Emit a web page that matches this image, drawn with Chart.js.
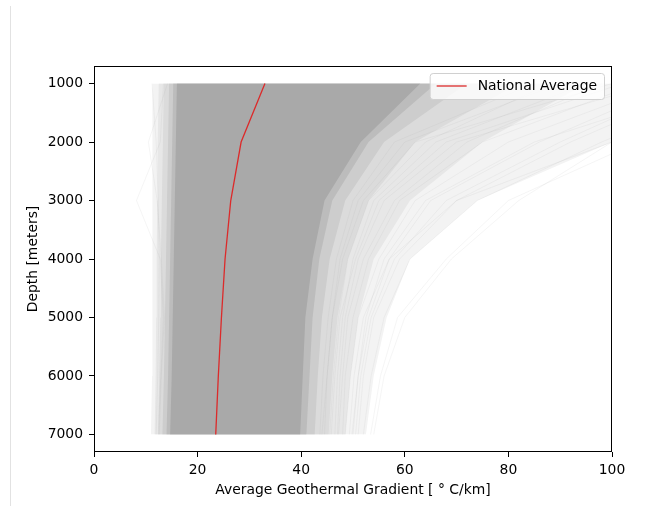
<!DOCTYPE html>
<html><head><meta charset="utf-8">
<script src="https://cdn.jsdelivr.net/npm/chart.js@4/dist/chart.umd.min.js"></script>
<style>
html,body{margin:0;padding:0;background:#fff;}
#wrap{position:relative;width:669px;height:506px;overflow:hidden;}
#edge{position:absolute;left:10px;top:6px;width:1px;height:500px;background:#e2e2e2;}
canvas{position:absolute;left:0;top:0;}
</style></head><body>
<div id="wrap"><canvas id="c" width="669" height="506"></canvas><div id="edge"></div></div>
<script>
// ---- data ----
const depths = [1000, 2000, 3000, 4000, 5000, 6000, 7000];
const depthTicks = [1000, 2000, 3000, 4000, 5000, 6000, 7000];
const gradientTicks = [0, 20, 40, 60, 80, 100];
const nationalAverage = [33.0, 28.4, 26.4, 25.3, 24.6, 24.0, 23.5];

// envelopes of the bundle of well profiles, from the dense core outwards
const coreLeft   = [16.0, 15.8, 15.6, 15.4, 15.2, 15.0, 14.7];
const coreRight  = [63.0, 51.5, 44.5, 42.2, 40.8, 40.3, 39.8];
const band1Left  = [15.3, 15.1, 14.9, 14.7, 14.5, 14.3, 14.0];
const band1Right = [66.0, 53.0, 46.0, 43.5, 42.2, 41.6, 41.0];
const band2Left  = [14.5, 14.3, 14.1, 13.9, 13.7, 13.5, 13.2];
const band2Right = [72.0, 56.0, 48.5, 45.5, 44.0, 43.2, 42.6];
const band3Left  = [13.5, 13.3, 13.1, 12.9, 12.8, 12.6, 12.4];
const band3Right = [82.0, 62.0, 53.0, 49.0, 47.0, 46.0, 45.3];
const band4Left  = [12.5, 12.3, 12.2, 12.1, 12.0, 11.9, 11.7];
const band4Right = [95.0, 75.0, 61.0, 54.0, 51.0, 49.5, 48.5];
const band5Left  = [11.3, 11.2, 11.3, 11.3, 11.3, 11.2, 11.0];
const band5Right = [115.0, 100.0, 74.0, 61.0, 56.5, 54.0, 52.5];

// individual outlying profiles
const rightProfiles = [
  [100, 62, 52, 48, 46, 45, 44.5],
  [108, 70, 56, 51, 48.5, 47.5, 47],
  [95, 66, 54, 50, 48, 47, 46.5],
  [120, 85, 64, 56, 52.5, 51, 50],
  [140, 105, 80, 68, 58.6, 55.3, 53.4],
  [125, 98, 74, 61, 56, 53.5, 52],
  [110, 80, 62, 55, 51, 49.5, 48.5],
  [90, 60, 51, 47.5, 46, 45, 44],
  [115, 90, 68, 58, 53.5, 51.5, 50.5],
  [105, 75, 59, 53, 50, 48.5, 48],
  [85, 58, 50, 46.8, 45.2, 44.2, 43.6],
  [135, 100, 70, 59, 54, 52, 51],
  [112, 86, 65, 57, 52, 50.2, 49.3],
  [98, 72, 58, 52, 49, 48, 47.2],
  [150, 100, 82, 69, 60, 56, 54],
  [102, 68, 55, 50.5, 47.5, 46.5, 45.8],
  [118, 92, 70, 57, 53, 51, 49.8],
  [88, 64, 53, 49, 47.2, 46.2, 45.5]
];
const leftProfiles = [
  [13.4, 12.8, 8.2, 12.8, 13.4, 12.9, 12.4],
  [14.2, 10.5, 12.2, 13.0, 13.6, 13.0, 12.6],
  [11.2, 12.0, 12.4, 12.6, 12.5, 12.3, 12.0]
];

// ---- chart ----
const FONT = 'DejaVu Sans';
const FS = 13.9;
const pts = arr => depths.map((d, i) => ({x: arr[i], y: d}));
const datasets = [];
datasets.push({label: 'National Average', data: pts(nationalAverage), borderColor: '#dc2a2a',
  borderWidth: 1.3, pointRadius: 0, fill: false, order: 0, tension: 0});
function band(left, right, color, order) {
  const li = datasets.length;
  datasets.push({label: '_band', data: pts(left), borderColor: 'rgba(0,0,0,0)', borderWidth: 0.01,
    pointRadius: 0, fill: false, order});
  datasets.push({label: '_band', data: pts(right), borderColor: 'rgba(0,0,0,0)', borderWidth: 0.01,
    pointRadius: 0, fill: {target: li}, backgroundColor: color, order});
}
band(coreLeft, coreRight, '#a9a9a9', 1);
rightProfiles.concat(leftProfiles).forEach(p => datasets.push({label: '_profile', data: pts(p),
  borderColor: 'rgba(150,150,150,0.2)', borderWidth: 0.5, pointRadius: 0, fill: false, order: 2}));
band(band1Left, band1Right, '#bcbcbc', 3);
band(band2Left, band2Right, '#cdcdcd', 4);
band(band3Left, band3Right, '#dbdbdb', 5);
band(band4Left, band4Right, '#e7e7e7', 6);
band(band5Left, band5Right, '#f3f3f3', 7);

const framePlugin = {
  id: 'frameAndLegend',
  afterDatasetsDraw(chart) {
    const {ctx, chartArea: a} = chart;
    ctx.save();
    ctx.strokeStyle = '#000'; ctx.lineWidth = 1;
    ctx.strokeRect(a.left + 0.5, a.top + 0.5, a.right - a.left - 1, a.bottom - a.top - 1);
    const ds = chart.data.datasets[0];
    ctx.font = FS + 'px "' + FONT + '"';
    const tw = ctx.measureText(ds.label).width;
    const boxRight = a.right - 8;
    const textLeft = boxRight - 7 - tw;
    const hRight = textLeft - 11, hLeft = hRight - 30;
    const boxLeft = hLeft - 7;
    const boxTop = a.top + 7, boxH = 26;
    ctx.beginPath();
    ctx.roundRect(boxLeft + 0.5, boxTop + 0.5, boxRight - boxLeft, boxH, 3);
    ctx.fillStyle = 'rgba(255,255,255,0.8)'; ctx.fill();
    ctx.strokeStyle = '#d0d0d0'; ctx.stroke();
    const cy = boxTop + boxH / 2;
    ctx.beginPath(); ctx.moveTo(hLeft, cy); ctx.lineTo(hRight, cy);
    ctx.strokeStyle = ds.borderColor; ctx.lineWidth = 1.3; ctx.stroke();
    ctx.fillStyle = '#000'; ctx.textBaseline = 'middle'; ctx.textAlign = 'left';
    ctx.fillText(ds.label, textLeft, cy);
    ctx.restore();
  }
};

new Chart(document.getElementById('c'), {
  type: 'line',
  data: {datasets},
  plugins: [framePlugin],
  options: {
    responsive: false, devicePixelRatio: 1, animation: false, indexAxis: 'y',
    layout: {padding: {top: 66, right: 57, left: 0, bottom: 0}},
    plugins: {legend: {display: false}, tooltip: {enabled: false}},
    scales: {
      x: {type: 'linear', position: 'bottom', min: 0, max: 100,
        afterBuildTicks: s => { s.ticks = gradientTicks.map(v => ({value: v})); },
        afterFit: s => { s.height = 54; },
        ticks: {font: {family: FONT, size: FS}, color: '#000', padding: 5, maxRotation: 0, callback: v => String(v)},
        grid: {drawOnChartArea: false, drawTicks: true, tickLength: 5, color: '#000'},
        border: {display: false},
        title: {display: true, text: 'Average Geothermal Gradient [ ° C/km]', font: {family: FONT, size: FS},
          color: '#000', padding: {top: 0, bottom: 7}}
      },
      y: {type: 'linear', position: 'left', reverse: true, min: 700, max: 7300,
        afterBuildTicks: s => { s.ticks = depthTicks.map(v => ({value: v})); },
        afterFit: s => { s.width = 94; },
        ticks: {font: {family: FONT, size: FS}, color: '#000', padding: 6, callback: v => String(v)},
        grid: {drawOnChartArea: false, drawTicks: true, tickLength: 5, color: '#000'},
        border: {display: false},
        title: {display: true, text: 'Depth [meters]', font: {family: FONT, size: FS}, color: '#000',
          padding: {top: 25, bottom: 0}}
      }
    }
  }
});
</script></body></html>
